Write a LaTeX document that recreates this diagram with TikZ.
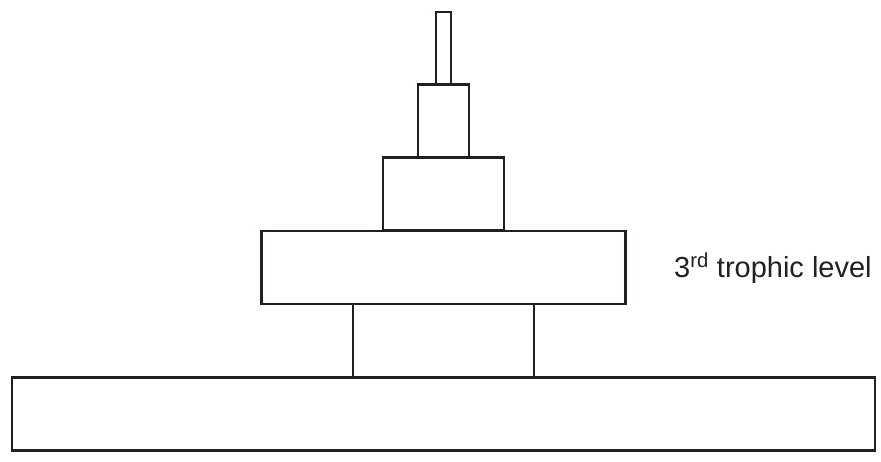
\documentclass[tikz,border=0pt]{standalone}
\usepackage{fontspec}
\setmainfont{Liberation Sans}
\definecolor{ink}{HTML}{231F20}

\begin{document}
\begin{tikzpicture}[
    x=1pt, y=-1pt,
    level/.style={draw=ink, line width=2.3pt, minimum height=73pt, inner sep=0pt},
    level text/.style={text=ink, font=\fontsize{29}{33}\selectfont, anchor=base west, inner sep=0pt}
]
\useasboundingbox (0,0) rectangle (881,461);

% Pyramid levels, bottom to top
\foreach \i/\y/\w in {1/414/863, 2/340.5/181, 3/267.5/364, 4/194/121, 5/121/51, 6/48.5/15} {
    \node[level, minimum width=\w pt] (L-\i) at (443.5, \y) {};
}

% Level label
\node[level text] (T-3) at (674, 277) {3\textsuperscript{rd} trophic level};

\end{tikzpicture}
\end{document}
